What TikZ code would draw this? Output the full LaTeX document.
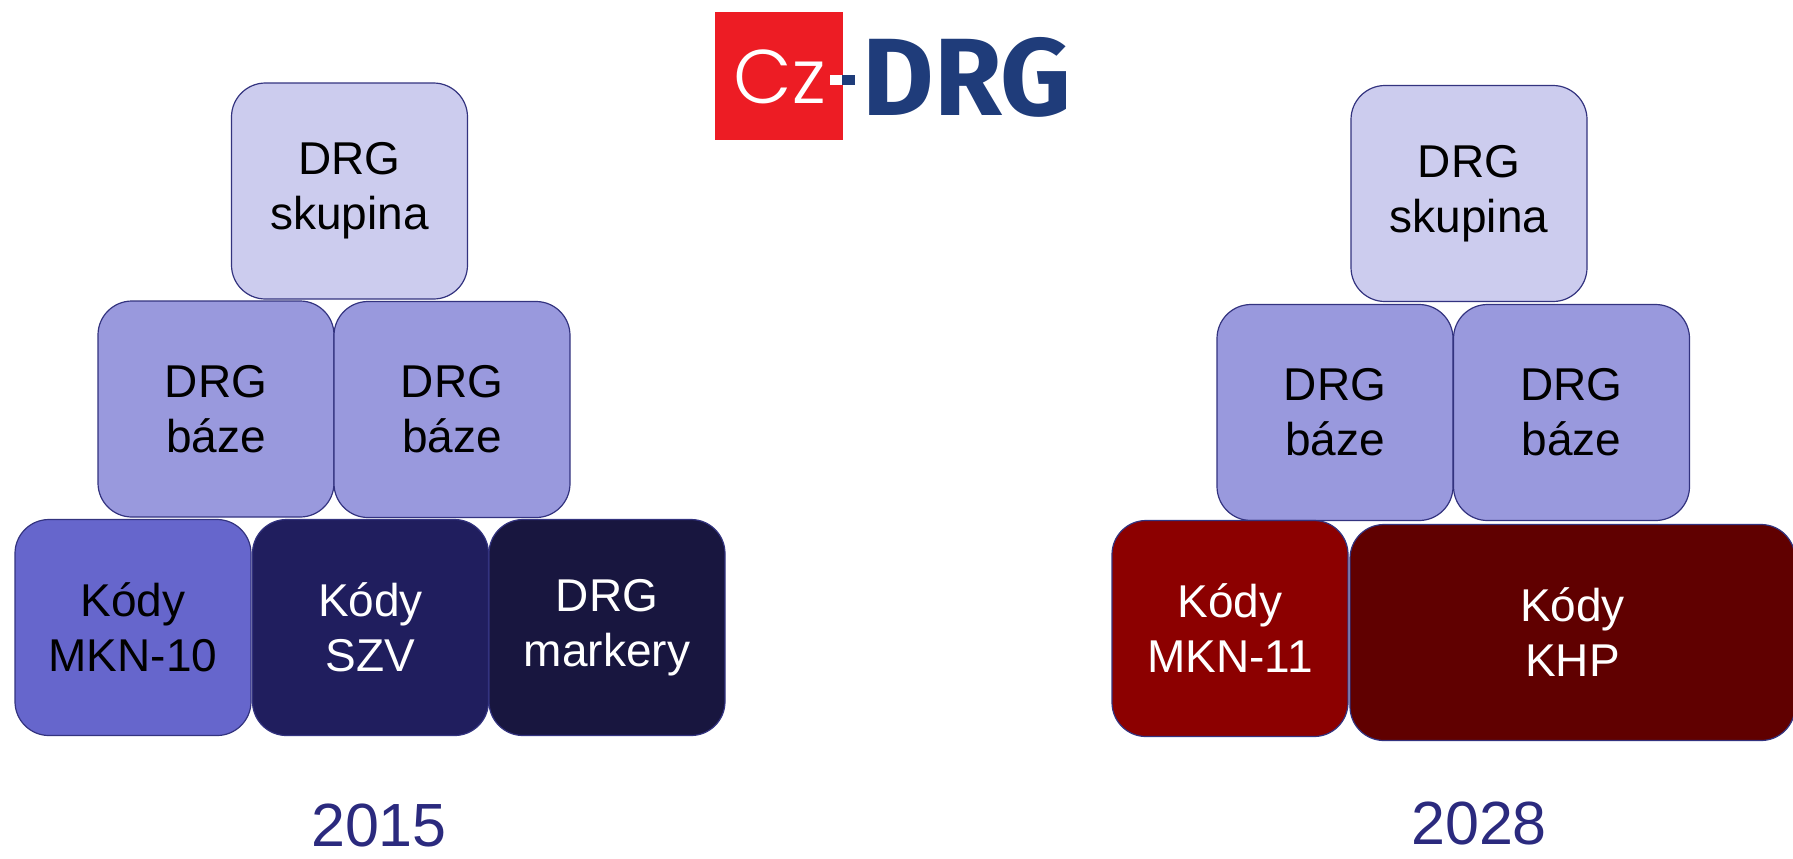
\documentclass[tikz,border=0pt]{standalone}
\usepackage{fontspec}
\setmainfont{Liberation Sans}
\newfontfamily\czfont{Poppins}[UprightFont={* Light}]
\newfontfamily\drgfont{Fira Sans}
\usetikzlibrary{positioning}

\definecolor{edge}{HTML}{33337F}
\definecolor{skup}{HTML}{CCCCEE}
\definecolor{baze}{HTML}{9999DD}
\definecolor{mkn}{HTML}{6666CC}
\definecolor{szv}{HTML}{201E5E}
\definecolor{mark}{HTML}{18163F}
\definecolor{mkneleven}{HTML}{8C0000}
\definecolor{khp}{HTML}{600000}
\definecolor{yearcol}{HTML}{2B2A7E}
\definecolor{logored}{HTML}{ED1C24}
\definecolor{logoblue}{HTML}{1F3C7A}

\tikzset{
  blok/.style={draw=edge,line width=0.6pt,rounded corners=17pt,inner sep=0pt,
    minimum width=118pt,minimum height=108pt,align=center,
    font=\fontsize{23}{27.5}\selectfont},
  year/.style={text=yearcol,font=\fontsize{30.5}{36}\selectfont,inner sep=0pt}
}

\begin{document}
\begin{tikzpicture}[x=0.5pt,y=-0.5pt]
\useasboundingbox (0,0) rectangle (1793,858);
% logo
\node[fill=logored,minimum size=64pt,inner sep=0pt] (logo) at (778.5,76) {};
\node[anchor=base,inner sep=0pt,text=white,font=\czfont\fontsize{38}{40}\selectfont] (cz) at (780,103) {Cz};
\fill[white] (830,75) rectangle (842,85);
\fill[logoblue] (842,75) rectangle (855,85);
\node[anchor=base west,inner sep=0pt,text=logoblue,font=\drgfont\bfseries\fontsize{55}{60}\selectfont] (drg) at (862,115) {DRG};

% 2015
\node[blok,fill=skup] (skupA) at (349.5,191) {DRG\\skupina};
\node[blok,fill=baze] (bazeA) at (216,409) {DRG\\báze};
\node[blok,fill=baze] (bazeB) at (452,409.5) {DRG\\báze};
\node[blok,fill=mkn] (mknA) at (133,627.5) {Kódy\\MKN-10};
\node[blok,fill=szv,text=white] (szvA) at (370.5,627.5) {Kódy\\SZV};
\node[blok,fill=mark,text=white] (markA) at (607,627.5) {DRG\\markery};
\node[year] (yearA) at (379,825) {2015};

% 2028
\node[blok,fill=skup] (skupB) at (1469,193.5) {DRG\\skupina};
\node[blok,fill=baze] (bazeC) at (1335,412.5) {DRG\\báze};
\node[blok,fill=baze] (bazeD) at (1571.5,412.5) {DRG\\báze};
\node[blok,fill=mkneleven,text=white] (mknB) at (1230,628.5) {Kódy\\MKN-11};
\node[blok,fill=khp,text=white,minimum width=222.5pt] (khpB) at (1572.5,632.5) {Kódy\\KHP};
\node[year] (yearB) at (1479,823) {2028};
\end{tikzpicture}
\end{document}
